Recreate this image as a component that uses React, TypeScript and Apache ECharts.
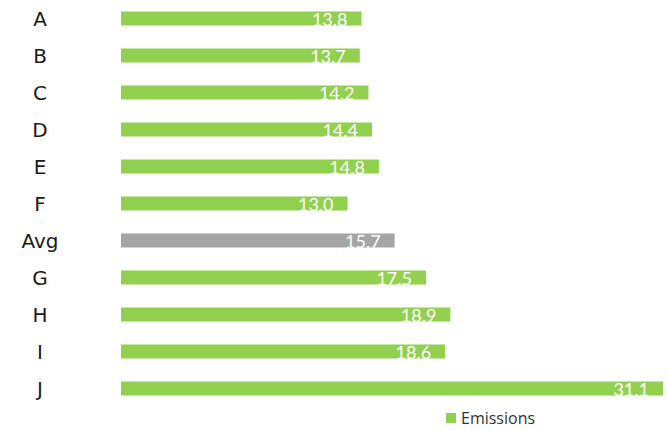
import React, { useEffect, useRef } from "react";
import * as echarts from "echarts";

const categories = ["A", "B", "C", "D", "E", "F", "Avg", "G", "H", "I", "J"];
const values = [13.8, 13.7, 14.2, 14.4, 14.8, 13.0, 15.7, 17.5, 18.9, 18.6, 31.1];
const seriesName = "Emissions";
const highlight = "Avg";

export default function App() {
  const ref = useRef<HTMLDivElement>(null);
  useEffect(() => {
    if (!ref.current) return;
    const chart = echarts.init(ref.current, null, { renderer: "svg" });
    chart.setOption({
      animation: false,
      grid: { left: 121, right: 5, top: -1.5, bottom: 23, containLabel: false },
      legend: {
        top: 405,
        left: 441,
        icon: "rect",
        itemWidth: 10,
        itemHeight: 10,
        itemGap: 9,
        textStyle: { fontFamily: "Open Sans", fontSize: 16, color: "#333" },
        data: [seriesName],
      },
      xAxis: {
        type: "value",
        min: 0,
        max: 31.1,
        show: false,
      },
      yAxis: {
        type: "category",
        inverse: true,
        data: categories,
        axisLine: { show: false },
        axisTick: { show: false },
        axisLabel: {
          align: "center",
          verticalAlign: "middle",
          margin: 81,
          lineHeight: 21,
          padding: [7, 0, 0, 0],
          fontFamily: "DejaVu Sans",
          fontSize: 20,
          color: "#1a1a1a",
        },
      },
      series: [
        {
          name: seriesName,
          type: "bar",
          barWidth: 14,
          itemStyle: { color: "#92D050" },
          label: {
            show: true,
            position: "insideRight",
            distance: 14,
            color: "#fff",
            fontFamily: "Lato",
            fontSize: 18,
            formatter: (p: any) => Number(p.value).toFixed(1),
          },
          data: categories.map((c, i) =>
            c === highlight
              ? { value: values[i], itemStyle: { color: "#A5A5A5" } }
              : values[i]
          ),
        },
      ],
    });
    return () => chart.dispose();
  }, []);
  return <div ref={ref} style={{ width: 668, height: 430, position: "absolute", left: 0, top: 0 }} />;
}
